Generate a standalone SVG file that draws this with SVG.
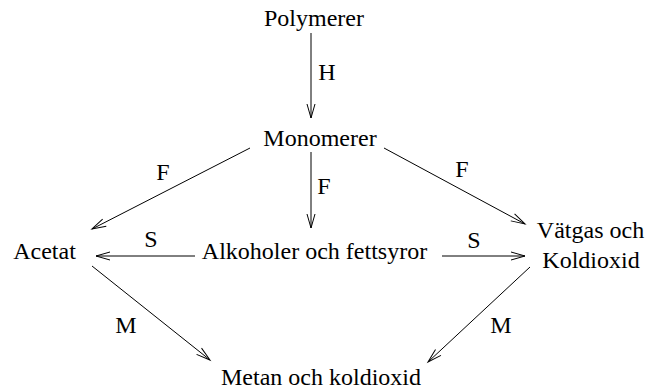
<svg xmlns="http://www.w3.org/2000/svg" width="645" height="390" viewBox="0 0 645 390">
  <style>
    .edge { stroke: #000; stroke-width: 1; fill: none; marker-end: url(#arrow); }
  </style>
  <defs>
    <!-- open V arrowhead -->
    <marker id="arrow" markerUnits="userSpaceOnUse" markerWidth="20" markerHeight="12" refX="15" refY="5" orient="auto" overflow="visible">
      <path d="M1,1 L15,5 L1,9" fill="none" stroke="#000" stroke-width="1"/>
    </marker>
  </defs>

  <g font-family="Liberation Serif, serif" font-size="24" fill="#000" text-anchor="middle">
    <g id="polymerer"><text x="314" y="26">Polymerer</text></g>
    <g id="monomerer"><text x="320" y="146">Monomerer</text></g>
    <g id="acetat"><text x="44.5" y="259">Acetat</text></g>
    <g id="alkoholer"><text x="314.5" y="259">Alkoholer och fettsyror</text></g>
    <g id="vatgas"><text x="590.5" y="238">Vätgas och</text><text x="591" y="268">Koldioxid</text></g>
    <g id="metan"><text x="321" y="385">Metan och koldioxid</text></g>

    <g id="connectors">
      <line class="edge" x1="311" y1="33" x2="311" y2="118"/>
      <line class="edge" x1="311" y1="152" x2="311" y2="228"/>
      <line class="edge" x1="250" y1="148" x2="92" y2="229"/>
      <line class="edge" x1="384" y1="148" x2="525" y2="224"/>
      <line class="edge" x1="195" y1="256" x2="96" y2="256"/>
      <line class="edge" x1="442" y1="256" x2="525" y2="256"/>
      <line class="edge" x1="92" y1="266" x2="210" y2="360"/>
      <line class="edge" x1="530" y1="267" x2="428" y2="362"/>
      <text x="327" y="80">H</text>
      <text x="163" y="180">F</text>
      <text x="324" y="194">F</text>
      <text x="462" y="177">F</text>
      <text x="151" y="247">S</text>
      <text x="474" y="248">S</text>
      <text x="126" y="333">M</text>
      <text x="501" y="333">M</text>
    </g>
  </g>
</svg>
